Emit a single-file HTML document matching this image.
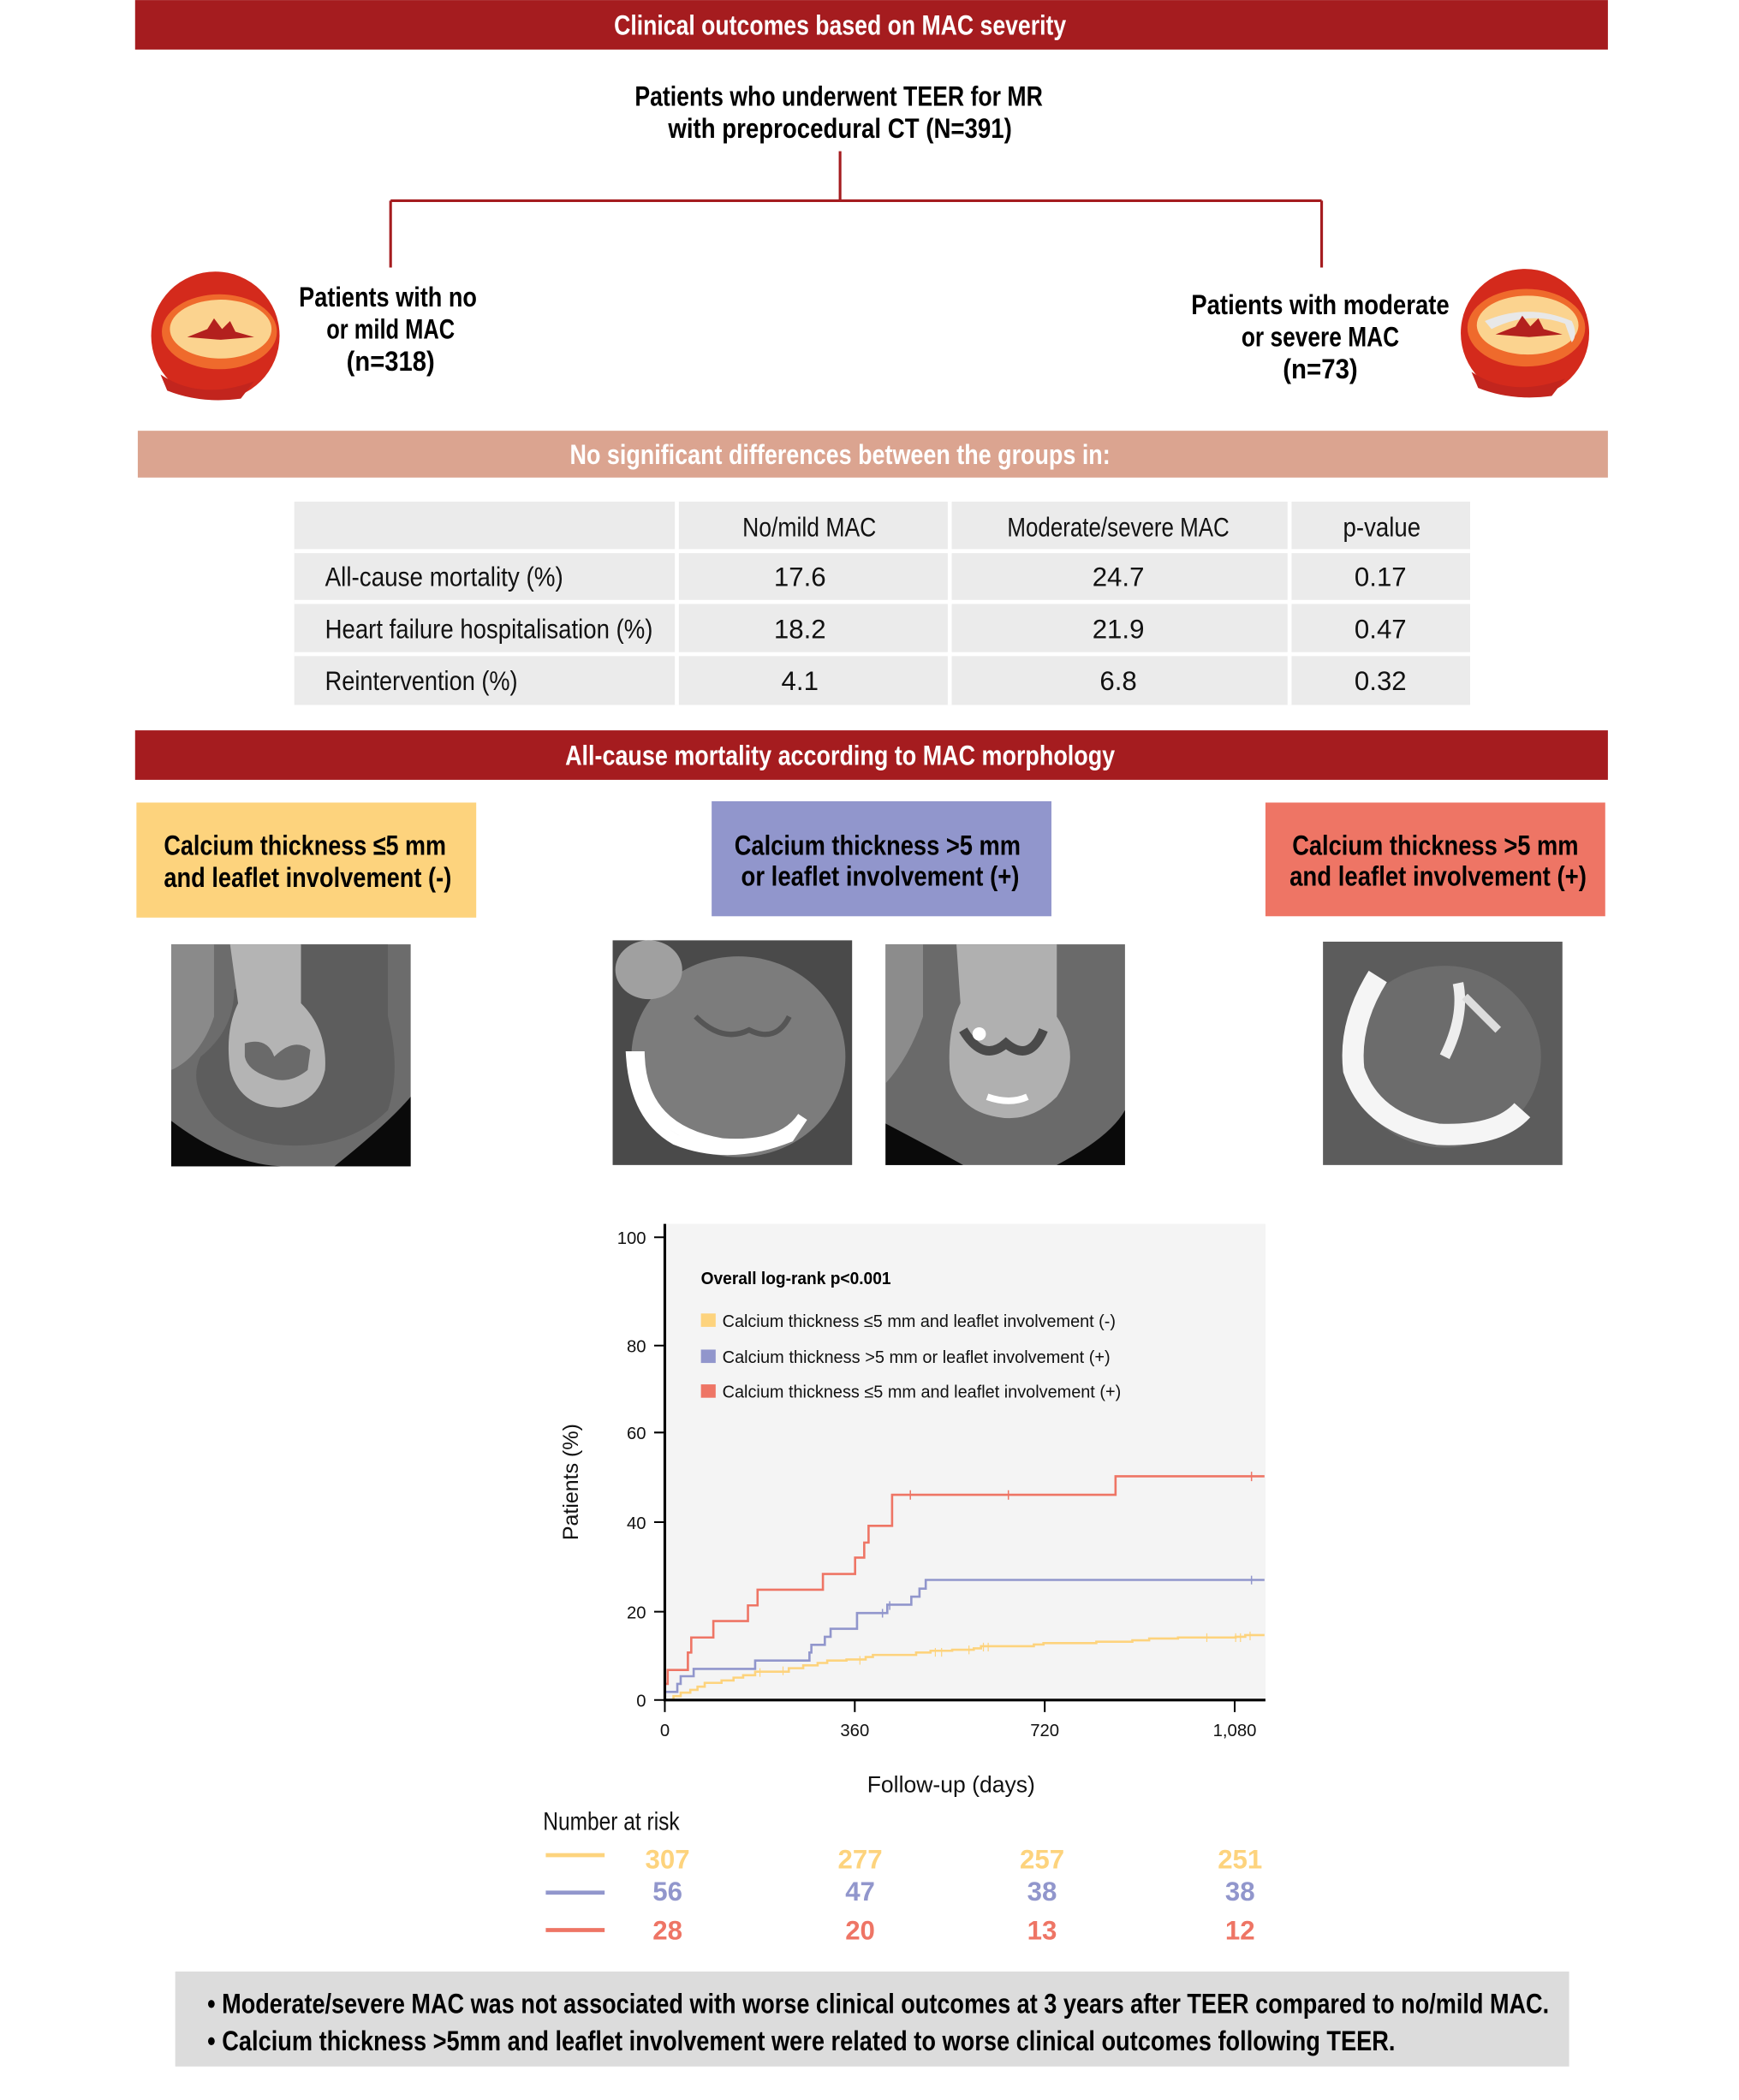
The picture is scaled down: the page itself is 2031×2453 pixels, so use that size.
<!DOCTYPE html>
<html><head><meta charset="utf-8"><style>
html,body{margin:0;padding:0;background:#fff}
svg{display:block}
.c{font-family:"Liberation Sans Narrow","Liberation Sans",sans-serif}
.b{font-weight:bold}
</style></head><body>
<svg width="2031" height="2453" viewBox="0 0 1300 1570" xmlns="http://www.w3.org/2000/svg">
<rect width="1300" height="1570" fill="#fff"/>
<rect x="101" y="0" width="1101" height="37" fill="#A51C1F"/>
<text x="628" y="26" text-anchor="middle" fill="#fff" class="c b" font-size="21" textLength="338" lengthAdjust="spacingAndGlyphs">Clinical outcomes based on MAC severity</text>
<g class="c b" font-size="21" text-anchor="middle" fill="#000">
<text x="627" y="79" textLength="305" lengthAdjust="spacingAndGlyphs">Patients who underwent TEER for MR</text>
<text x="628" y="103" textLength="257" lengthAdjust="spacingAndGlyphs">with preprocedural CT (N=391)</text>
<text x="290" y="229" textLength="133" lengthAdjust="spacingAndGlyphs">Patients with no</text>
<text x="292" y="253" textLength="96" lengthAdjust="spacingAndGlyphs">or mild MAC</text>
<text x="292" y="277" textLength="66" lengthAdjust="spacingAndGlyphs">(n=318)</text>
<text x="987" y="235" textLength="193" lengthAdjust="spacingAndGlyphs">Patients with moderate</text>
<text x="987" y="259" textLength="118" lengthAdjust="spacingAndGlyphs">or severe MAC</text>
<text x="987" y="283" textLength="56" lengthAdjust="spacingAndGlyphs">(n=73)</text>
</g>
<path d="M628 113V150M292 150H988M292 150V200M988 150V200" stroke="#A51C1F" stroke-width="2" fill="none"/>
<g>
<circle cx="161" cy="251" r="48" fill="#D42A1C"/>
<ellipse cx="164" cy="248" rx="43" ry="28" fill="#EF6A2C"/>
<ellipse cx="165" cy="246" rx="38" ry="22" fill="#FBD38F"/>
<path d="M140 252L155 246L160 238L166 246L172 240L176 248L190 252L165 254Z" fill="#B3201E"/>
<path d="M120 280Q150 300 190 285L180 298Q150 302 125 292Z" fill="#C2251E"/>
</g>
<g>
<circle cx="1140" cy="249" r="48" fill="#D42A1C"/>
<ellipse cx="1141" cy="245" rx="44" ry="29" fill="#EF6A2C"/>
<ellipse cx="1142" cy="243" rx="38" ry="22" fill="#FBD38F"/>
<path d="M1110 240Q1142 226 1175 240Q1180 250 1175 256L1170 242Q1142 232 1115 246Z" fill="#E8E8E8"/>
<path d="M1118 250L1133 244L1138 236L1144 244L1150 238L1154 246L1168 250L1143 252Z" fill="#B3201E"/>
<path d="M1100 278Q1130 298 1170 283L1160 296Q1130 300 1105 290Z" fill="#C2251E"/>
</g>
<rect x="103" y="322" width="1099" height="35" fill="#DBA490"/>
<text x="628" y="347" text-anchor="middle" fill="#fff" class="c b" font-size="21" textLength="404" lengthAdjust="spacingAndGlyphs">No significant differences between the groups in:</text>
<rect x="220" y="375" width="879" height="152" fill="#EBEBEB"/>
<path d="M220 412H1099M220 450H1099M220 489H1099M506 375V527M710 375V527M964 375V527" stroke="#fff" stroke-width="3"/>
<g class="c" font-size="20" fill="#111">
<text x="605" y="401" text-anchor="middle" textLength="100" lengthAdjust="spacingAndGlyphs">No/mild MAC</text>
<text x="836" y="401" text-anchor="middle" textLength="166" lengthAdjust="spacingAndGlyphs">Moderate/severe MAC</text>
<text x="1033" y="401" text-anchor="middle" textLength="58" lengthAdjust="spacingAndGlyphs">p-value</text>
<text x="243" y="438" textLength="178" lengthAdjust="spacingAndGlyphs">All-cause mortality (%)</text>
<text x="243" y="477" textLength="245" lengthAdjust="spacingAndGlyphs">Heart failure hospitalisation (%)</text>
<text x="243" y="516" textLength="144" lengthAdjust="spacingAndGlyphs">Reintervention (%)</text>
<g text-anchor="middle">
<text x="598" y="438">17.6</text><text x="836" y="438">24.7</text><text x="1032" y="438">0.17</text>
<text x="598" y="477">18.2</text><text x="836" y="477">21.9</text><text x="1032" y="477">0.47</text>
<text x="598" y="516">4.1</text><text x="836" y="516">6.8</text><text x="1032" y="516">0.32</text>
</g></g>
<rect x="101" y="546" width="1101" height="37" fill="#A51C1F"/>
<text x="628" y="572" text-anchor="middle" fill="#fff" class="c b" font-size="21" textLength="411" lengthAdjust="spacingAndGlyphs">All-cause mortality according to MAC morphology</text>
<rect x="102" y="600" width="254" height="86" fill="#FDD37D"/>
<rect x="532" y="599" width="254" height="86" fill="#9196CC"/>
<rect x="946" y="600" width="254" height="85" fill="#EE7565"/>
<g class="c b" font-size="21" text-anchor="middle" fill="#000">
<text x="228" y="639" textLength="211" lengthAdjust="spacingAndGlyphs">Calcium thickness ≤5 mm</text>
<text x="230" y="663" textLength="215" lengthAdjust="spacingAndGlyphs">and leaflet involvement (-)</text>
<text x="656" y="639" textLength="214" lengthAdjust="spacingAndGlyphs">Calcium thickness &gt;5 mm</text>
<text x="658" y="662" textLength="208" lengthAdjust="spacingAndGlyphs">or leaflet involvement (+)</text>
<text x="1073" y="639" textLength="214" lengthAdjust="spacingAndGlyphs">Calcium thickness &gt;5 mm</text>
<text x="1075" y="662" textLength="222" lengthAdjust="spacingAndGlyphs">and leaflet involvement (+)</text>
</g>
<!-- CT 1 -->
<rect x="128" y="706" width="179" height="166" fill="#6c6c6c"/>
<path d="M128 838Q170 870 210 872H128Z M250 872Q290 840 307 820V872Z" fill="#0a0a0a"/>
<path d="M128 706H160V760Q150 790 128 800Z" fill="#8a8a8a"/>
<path d="M225 706H290V760Q300 800 290 830Q270 850 240 855Q190 862 160 835Q140 810 150 790Q175 770 175 740Z" fill="#5a5a5a" opacity="0.8"/>
<path d="M172 706H225V750Q245 770 243 800Q238 825 210 828Q180 828 172 800Q168 770 178 750Z" fill="#b4b4b4"/>
<path d="M183 780Q200 775 205 790Q220 775 232 785L230 800Q215 812 200 805Q185 800 183 790Z" fill="#6a6a6a"/>
<!-- CT 2 -->
<rect x="458" y="703" width="179" height="168" fill="#4a4a4a"/>
<ellipse cx="552" cy="790" rx="80" ry="75" fill="#7c7c7c"/>
<ellipse cx="485" cy="725" rx="25" ry="22" fill="#a0a0a0"/>
<path d="M478 790Q480 845 540 855Q585 858 600 835L590 850Q545 868 505 852Q475 835 472 790Z" fill="#f2f2f2" stroke="#fff" stroke-width="8"/>
<path d="M520 760Q540 780 560 770Q580 780 590 760" stroke="#555" stroke-width="4" fill="none"/>
<!-- CT 3 -->
<rect x="662" y="706" width="179" height="165" fill="#6a6a6a"/>
<path d="M662 840Q700 860 720 871H662Z M790 871Q830 850 841 830V871Z" fill="#0a0a0a"/>
<path d="M662 706H690V760Q680 790 662 810Z" fill="#8c8c8c"/>
<path d="M715 706H790V760Q810 790 790 820Q770 840 745 835Q715 830 710 800Q708 770 718 750Z" fill="#b0b0b0"/>
<path d="M720 770Q735 795 752 780Q770 795 780 770" stroke="#4a4a4a" stroke-width="7" fill="none"/>
<circle cx="732" cy="773" r="5" fill="#fff"/>
<path d="M738 820Q755 826 768 820" stroke="#fff" stroke-width="5" fill="none"/>
<!-- CT 4 -->
<rect x="989" y="704" width="179" height="167" fill="#5c5c5c"/>
<ellipse cx="1080" cy="790" rx="72" ry="68" fill="#6c6c6c"/>
<path d="M1030 730Q1008 765 1012 800Q1025 840 1075 848Q1120 850 1138 830" stroke="#f5f5f5" stroke-width="16" fill="none"/>
<path d="M1090 735Q1095 760 1080 790" stroke="#eee" stroke-width="8" fill="none"/>
<path d="M1095 745Q1110 760 1120 770" stroke="#ddd" stroke-width="6" fill="none"/>
<!-- chart -->
<rect x="497" y="915" width="449" height="356" fill="#F4F4F4"/>
<g class="c" font-size="13" text-anchor="end" fill="#111">
<text x="483" y="930">100</text>
<text x="483" y="1011">80</text>
<text x="483" y="1076">60</text>
<text x="483" y="1143">40</text>
<text x="483" y="1210">20</text>
<text x="483" y="1276">0</text>
</g>
<path d="M489 925H497M489 1006H497M489 1071H497M489 1138H497M489 1205H497M489 1271H497" stroke="#000" stroke-width="1.3"/>
<g class="c" font-size="13" text-anchor="middle" fill="#111">
<text x="497" y="1298">0</text><text x="639" y="1298">360</text><text x="781" y="1298">720</text><text x="923" y="1298">1,080</text>
</g>
<path d="M497 1271V1280M639 1271V1280M781 1271V1280M923 1271V1280" stroke="#000" stroke-width="1.3"/>
<text x="432" y="1108" transform="rotate(-90 432 1108)" text-anchor="middle" font-family="Liberation Sans,sans-serif" font-size="16" fill="#111">Patients (%)</text>
<text x="524" y="960" class="c b" font-size="13" fill="#000" textLength="142" lengthAdjust="spacingAndGlyphs">Overall log-rank p&lt;0.001</text>
<rect x="524" y="982" width="11" height="10" fill="#FDD37D"/>
<rect x="524" y="1009" width="11" height="10" fill="#9196CC"/>
<rect x="524" y="1035" width="11" height="10" fill="#EE7565"/>
<g class="c" font-size="13" fill="#111">
<text x="540" y="992" textLength="294" lengthAdjust="spacingAndGlyphs">Calcium thickness ≤5 mm and leaflet involvement (-)</text>
<text x="540" y="1019" textLength="290" lengthAdjust="spacingAndGlyphs">Calcium thickness &gt;5 mm or leaflet involvement (+)</text>
<text x="540" y="1045" textLength="298" lengthAdjust="spacingAndGlyphs">Calcium thickness ≤5 mm and leaflet involvement (+)</text>
</g>
<g transform="translate(395.7,895) scale(0.3592,0.2609)" fill="none">
<path vector-effect="non-scaling-stroke" d="M290 1441H300V1430H315V1420H335V1412H350V1403H365V1392H400V1385H425V1377H445V1370H470V1360H540V1350H570V1342H600V1335H620V1328H660V1325H700V1318H715V1312H805V1305H835V1300H880V1297H925V1293H940V1287H1050V1282H1070V1278H1180V1274H1255V1270H1290V1265H1350V1262H1470V1260H1490V1255H1530" stroke="#FDD37D" stroke-width="2.6"/>
<path vector-effect="non-scaling-stroke" d="M480 1350v25M528 1345v25M688 1315v25M845 1292v25M858 1292v25M915 1285v25M945 1277v25M955 1277v25M1410 1250v25M1470 1250v25M1480 1250v25M1500 1245v25" stroke="#FDD37D" stroke-width="1.2"/>
<path vector-effect="non-scaling-stroke" d="M282 1441V1418H308V1395H315V1373H342V1352H470V1328H583V1305H587V1283H615V1260H627V1237H682V1192H745V1168H795V1145H812V1122H825V1097H1530" stroke="#9196CC" stroke-width="2.6"/>
<path vector-effect="non-scaling-stroke" d="M735 1180v25M750 1158v25M1503 1085v25" stroke="#9196CC" stroke-width="1.5"/>
<path vector-effect="non-scaling-stroke" d="M282 1441V1395H288V1355H330V1305H337V1262H383V1215H455V1170H475V1125H611V1080H678V1033H697V990H706V942H755V853H1220V800H1530" stroke="#EE7565" stroke-width="2.6"/>
<path vector-effect="non-scaling-stroke" d="M793 840v27M997 840v27M1503 787v27" stroke="#EE7565" stroke-width="1.5"/>
</g>
<path d="M497 915V1271H946" stroke="#000" stroke-width="2" fill="none"/>
<text x="711" y="1340" text-anchor="middle" font-family="Liberation Sans,sans-serif" font-size="17" fill="#111">Follow-up (days)</text>
<text x="406" y="1368" class="c" font-size="19" fill="#111" textLength="102" lengthAdjust="spacingAndGlyphs">Number at risk</text>
<path d="M408 1387H452" stroke="#FDD37D" stroke-width="3"/>
<path d="M408 1415H452" stroke="#9196CC" stroke-width="3"/>
<path d="M408 1443H452" stroke="#EE7565" stroke-width="3"/>
<g class="c b" font-size="20" text-anchor="middle">
<g fill="#FDD37D"><text x="499" y="1397">307</text><text x="643" y="1397">277</text><text x="779" y="1397">257</text><text x="927" y="1397">251</text></g>
<g fill="#9196CC"><text x="499" y="1421">56</text><text x="643" y="1421">47</text><text x="779" y="1421">38</text><text x="927" y="1421">38</text></g>
<g fill="#EE7565"><text x="499" y="1450">28</text><text x="643" y="1450">20</text><text x="779" y="1450">13</text><text x="927" y="1450">12</text></g>
</g>
<rect x="131" y="1474" width="1042" height="71" fill="#DCDCDC"/>
<g class="c b" font-size="21" fill="#000">
<text x="155" y="1505" textLength="1003" lengthAdjust="spacingAndGlyphs">• Moderate/severe MAC was not associated with worse clinical outcomes at 3 years after TEER compared to no/mild MAC.</text>
<text x="155" y="1533" textLength="888" lengthAdjust="spacingAndGlyphs">• Calcium thickness &gt;5mm and leaflet involvement were related to worse clinical outcomes following TEER.</text>
</g>
</svg>
</body></html>
